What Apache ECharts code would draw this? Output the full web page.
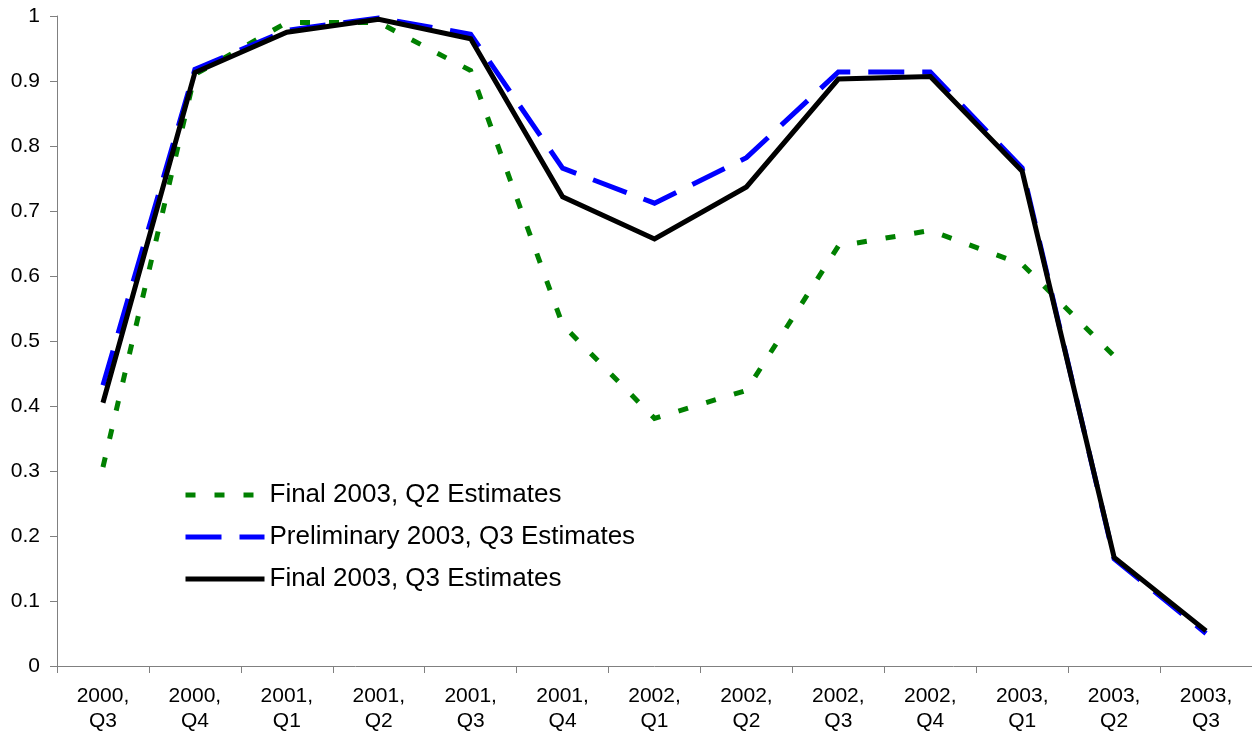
<!DOCTYPE html>
<html>
<head>
<meta charset="utf-8">
<script src="https://cdn.jsdelivr.net/npm/echarts@6/dist/echarts.min.js"></script>
<style>
  html, body { margin: 0; padding: 0; background: #fff; }
  #chart { width: 1252px; height: 738px; }
</style>
</head>
<body>
<div id="chart"></div>
<script>
// quarters along the x axis
const quarters = [
  '2000,\nQ3', '2000,\nQ4', '2001,\nQ1', '2001,\nQ2', '2001,\nQ3', '2001,\nQ4',
  '2002,\nQ1', '2002,\nQ2', '2002,\nQ3', '2002,\nQ4', '2003,\nQ1', '2003,\nQ2', '2003,\nQ3'
];

// values
const finalQ2 = [0.306, 0.91, 0.99, 0.99, 0.916, 0.525, 0.381, 0.424, 0.646, 0.67, 0.618, 0.477, null];
const prelimQ3 = [0.432, 0.918, 0.978, 0.997, 0.972, 0.766, 0.712, 0.782, 0.914, 0.914, 0.766, 0.165, 0.05];
const finalQ3 = [0.405, 0.913, 0.975, 0.995, 0.965, 0.722, 0.657, 0.737, 0.903, 0.907, 0.761, 0.167, 0.054];

const seriesNames = [
  'Final 2003, Q2 Estimates',
  'Preliminary 2003, Q3 Estimates',
  'Final 2003, Q3 Estimates'
];

const fontFamily = '"Liberation Sans", Arial, sans-serif';
const axisColor = '#808080';

function lineSeries(name, data, color, dash) {
  return {
    name: name,
    type: 'line',
    data: data,
    symbol: 'none',
    showSymbol: false,
    connectNulls: false,
    animation: false,
    lineStyle: {
      color: color,
      width: 5,
      type: dash,
      cap: 'butt',
      join: 'miter'
    },
    itemStyle: { color: color }
  };
}

const chart = echarts.init(document.getElementById('chart'));

chart.setOption({
  animation: false,
  backgroundColor: '#fff',
  textStyle: { fontFamily: fontFamily, color: '#000' },
  grid: {
    left: 57,
    right: 0,
    top: 16,
    bottom: 72,
    containLabel: false,
    outerBoundsMode: 'none'
  },
  legend: {
    orient: 'vertical',
    left: 183,
    top: 482,
    padding: 0,
    itemWidth: 79,
    itemHeight: 20,
    itemGap: 16,
    selectedMode: false,
    data: seriesNames,
    // only the line in the legend, no marker
    itemStyle: { opacity: 0 },
    lineStyle: { width: 5, type: 'inherit', cap: 'butt' },
    textStyle: {
      fontFamily: fontFamily,
      fontSize: 26,
      lineHeight: 24,
      color: '#000'
    }
  },
  xAxis: {
    type: 'category',
    data: quarters,
    boundaryGap: true,
    axisLine: { show: true, lineStyle: { color: axisColor, width: 1 } },
    axisTick: { show: true, interval: 0, length: 7, lineStyle: { color: axisColor } },
    axisLabel: {
      interval: 0,
      margin: 18,
      fontSize: 21,
      lineHeight: 25,
      color: '#000',
      fontFamily: fontFamily
    },
    splitLine: { show: false }
  },
  yAxis: {
    type: 'value',
    min: 0,
    max: 1,
    interval: 0.1,
    axisLine: { show: true, lineStyle: { color: axisColor, width: 1 } },
    axisTick: { show: true, length: 7, lineStyle: { color: axisColor } },
    axisLabel: {
      margin: 17,
      fontSize: 21,
      color: '#000',
      fontFamily: fontFamily,
      formatter: (v) => String(+v.toFixed(1))
    },
    splitLine: { show: false }
  },
  series: [
    lineSeries(seriesNames[0], finalQ2, '#008000', [10, 19]),
    lineSeries(seriesNames[1], prelimQ3, '#0000ff', [36, 18]),
    lineSeries(seriesNames[2], finalQ3, '#000000', 'solid')
  ]
});
</script>
</body>
</html>
